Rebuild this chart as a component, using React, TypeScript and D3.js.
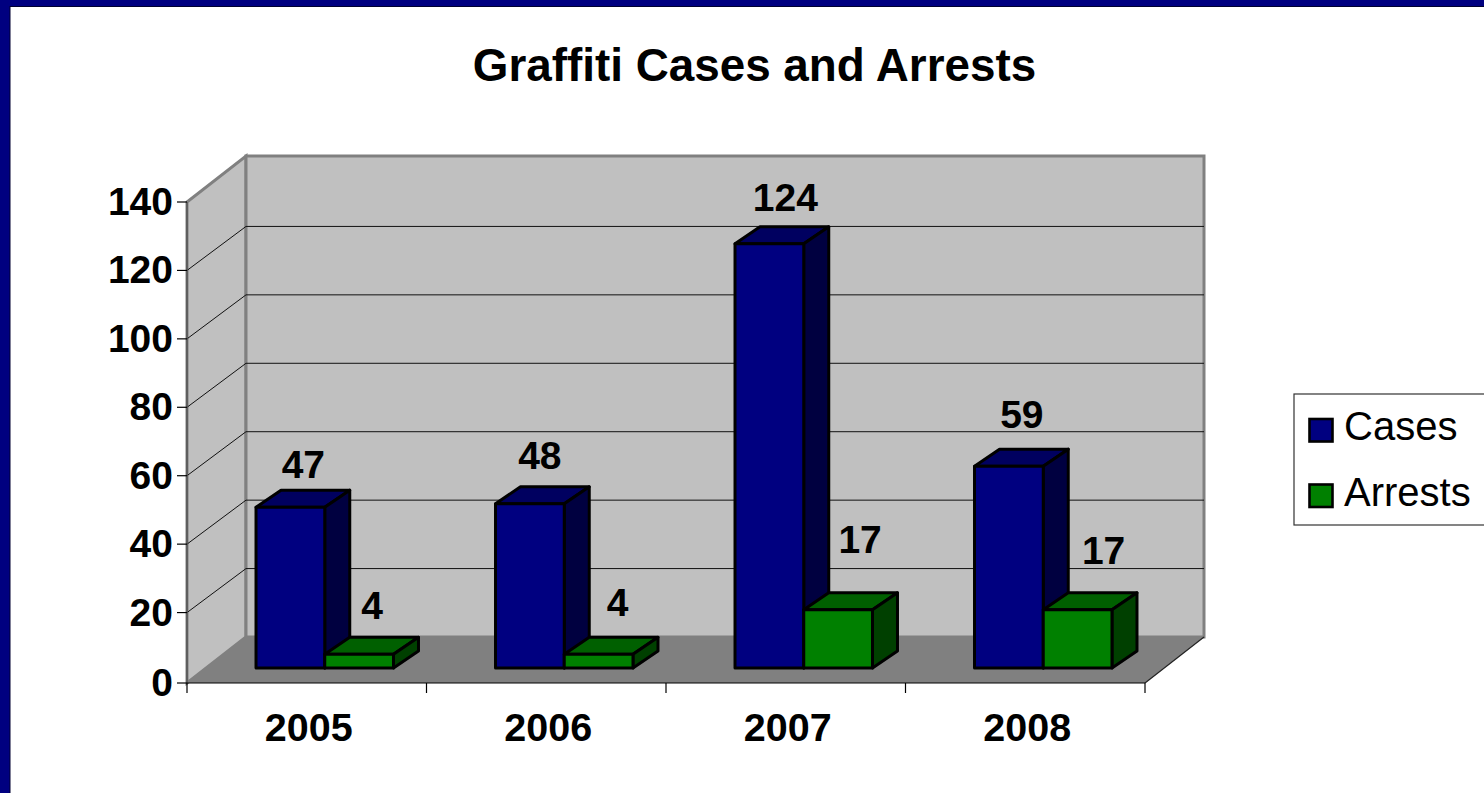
import { useEffect, useRef } from 'react';
import * as d3 from 'd3';

const years = ['2005', '2006', '2007', '2008'];
const cases = [47, 48, 124, 59];
const arrests = [4, 4, 17, 17];
const yTicks = [0, 20, 40, 60, 80, 100, 120, 140];
const seriesNames = ['Cases', 'Arrests'];

// pixel nudges for the data labels, relative to the default spot above each bar
const caseLabelShift: [number, number][] = [[-2, 5], [-5, -1], [1, 1], [-2, -4]];
const arrestLabelShift: [number, number][] = [[-2, -1], [4, -4], [7, -23], [11, -12]];

const WIDTH = 1484;
const HEIGHT = 793;
const FONT = '"Liberation Sans", Arial, sans-serif';

// fake 3d: the back wall sits this far from the front plane
const DEPTH_X = 59;
const DEPTH_Y = -46;
const GRID_DEPTH_Y = -44;
// bars stand part of the way into the floor
const BAR_X = 18;
const BAR_Y = -13;
const BAR_DEPTH_X = 25;
const BAR_DEPTH_Y = -17;

const PALETTE = {
  cases: { front: '#000080', top: '#000060', side: '#000040' },
  arrests: { front: '#008000', top: '#006000', side: '#004000' },
};

function poly(points: [number, number][]): string {
  return (d3.line()(points) ?? '') + 'Z';
}

function drawChart(svgEl: SVGSVGElement) {
  const svg = d3.select(svgEl);
  svg.selectAll('*').remove();

  const x0 = 187;
  const x1 = 1145;
  const yBase = 683;
  const yTop = 202;

  const y = d3.scaleLinear().domain([0, 140]).range([681, yTop]);
  const x = d3.scaleBand<string>().domain(years).range([x0, x1]).paddingInner(0.426).paddingOuter(0.213);
  const step = x.step();
  const barW = x.bandwidth() / 2;

  // slide frame
  svg.append('rect').attr('width', WIDTH).attr('height', HEIGHT).attr('fill', '#000080');
  svg.append('rect').attr('x', 10).attr('y', 6.5).attr('width', WIDTH).attr('height', HEIGHT).attr('fill', '#fff').attr('stroke', '#000030').attr('stroke-width', 1);

  svg
    .append('text')
    .attr('x', 754.5)
    .attr('y', 81)
    .attr('text-anchor', 'middle')
    .attr('font-size', 45.8)
    .attr('font-weight', 'bold')
    .text('Graffiti Cases and Arrests');

  const walls = svg.append('g');
  // side wall
  walls
    .append('path')
    .attr('d', poly([[x0, yBase], [x0 + DEPTH_X, yBase + DEPTH_Y], [x0 + DEPTH_X, yTop + DEPTH_Y], [x0, yTop]]))
    .attr('fill', '#c0c0c0')
    .attr('stroke', '#808080')
    .attr('stroke-width', 3);
  // back wall
  walls
    .append('rect')
    .attr('x', x0 + DEPTH_X)
    .attr('y', yTop + DEPTH_Y)
    .attr('width', x1 - x0)
    .attr('height', yBase - yTop)
    .attr('fill', '#c0c0c0')
    .attr('stroke', '#808080')
    .attr('stroke-width', 3);
  // floor
  walls
    .append('path')
    .attr('d', poly([[x0, yBase], [x0 + DEPTH_X, yBase + DEPTH_Y], [x1 + DEPTH_X, yBase + DEPTH_Y], [x1, yBase]]))
    .attr('fill', '#808080');

  // gridlines run along both walls
  yTicks
    .filter((t) => t > 0 && t < 140)
    .forEach((t) => {
      walls
        .append('path')
        .attr('d', d3.line()([[x0, y(t)], [x0 + DEPTH_X, y(t) + GRID_DEPTH_Y], [x1 + DEPTH_X, y(t) + GRID_DEPTH_Y]]))
        .attr('fill', 'none')
        .attr('stroke', '#111')
        .attr('stroke-width', 1);
    });

  // axes
  const axes = svg.append('g').attr('stroke', '#000').attr('stroke-width', 1.2);
  axes.append('line').attr('x1', x0).attr('x2', x0).attr('y1', yTop).attr('y2', yBase).attr('stroke', '#555').attr('stroke-width', 1.5);
  axes.append('line').attr('x1', x0).attr('x2', x1).attr('y1', yBase).attr('y2', yBase);
  axes
    .append('line')
    .attr('x1', x1)
    .attr('y1', yBase)
    .attr('x2', x1 + DEPTH_X)
    .attr('y2', yBase + DEPTH_Y)
    .attr('stroke', '#222');
  yTicks.forEach((t) => {
    const ty = t === 0 ? yBase : y(t);
    axes.append('line').attr('x1', x0 - 10).attr('x2', x0).attr('y1', ty).attr('y2', ty);
    svg
      .append('text')
      .attr('x', x0 - 14)
      .attr('y', ty + 13)
      .attr('text-anchor', 'end')
      .attr('font-size', 39)
      .attr('font-weight', 'bold')
      .text(t);
  });
  d3.range(years.length + 1).forEach((i) => {
    const tx = x0 + step * i;
    axes.append('line').attr('x1', tx).attr('x2', tx).attr('y1', yBase).attr('y2', yBase + 10);
  });
  years.forEach((yr) => {
    svg
      .append('text')
      .attr('x', (x(yr) ?? 0) + x.bandwidth() / 2 + 2)
      .attr('y', 741)
      .attr('text-anchor', 'middle')
      .attr('font-size', 39.5)
      .attr('font-weight', 'bold')
      .text(yr);
  });

  const drawBox = (left: number, value: number, colors: typeof PALETTE.cases, g: d3.Selection<SVGGElement, unknown, null, undefined>) => {
    const right = left + barW;
    const bottom = y(0) + BAR_Y;
    const top = y(value) + BAR_Y;
    const face = (pts: [number, number][], fill: string) =>
      g
        .append('path')
        .attr('d', poly(pts))
        .attr('fill', fill)
        .attr('stroke', '#000')
        .attr('stroke-width', 3)
        .attr('stroke-linejoin', 'round');
    face([[left, top], [left + BAR_DEPTH_X, top + BAR_DEPTH_Y], [right + BAR_DEPTH_X, top + BAR_DEPTH_Y], [right, top]], colors.top);
    face([[right, top], [right + BAR_DEPTH_X, top + BAR_DEPTH_Y], [right + BAR_DEPTH_X, bottom + BAR_DEPTH_Y], [right, bottom]], colors.side);
    face([[left, top], [right, top], [right, bottom], [left, bottom]], colors.front);
  };

  const bars = svg.append('g');
  years.forEach((yr, i) => {
    const left = (x(yr) ?? 0) + BAR_X;
    drawBox(left, cases[i], PALETTE.cases, bars);
    drawBox(left + barW, arrests[i], PALETTE.arrests, bars);
  });

  const labels = svg.append('g').attr('font-size', 39).attr('font-weight', 'bold').attr('text-anchor', 'middle');
  years.forEach((yr, i) => {
    const left = (x(yr) ?? 0) + BAR_X;
    labels
      .append('text')
      .attr('x', left + barW / 2 + 15 + caseLabelShift[i][0])
      .attr('y', y(cases[i]) + BAR_Y - 34 + caseLabelShift[i][1])
      .text(cases[i]);
    labels
      .append('text')
      .attr('x', left + barW * 1.5 + 15 + arrestLabelShift[i][0])
      .attr('y', y(arrests[i]) + BAR_Y - 34 + arrestLabelShift[i][1])
      .text(arrests[i]);
  });

  // legend
  const legend = svg.append('g').attr('transform', 'translate(1294,394)');
  legend.append('rect').attr('width', 192).attr('height', 131).attr('fill', '#fff').attr('stroke', '#333').attr('stroke-width', 1.2);
  seriesNames.forEach((name, i) => {
    const row = legend.append('g').attr('transform', `translate(0,${i * 65.5})`);
    row
      .append('rect')
      .attr('x', 15.5)
      .attr('y', 25)
      .attr('width', 23)
      .attr('height', 22.5)
      .attr('fill', i === 0 ? PALETTE.cases.front : PALETTE.arrests.front)
      .attr('stroke', '#000')
      .attr('stroke-width', 2.6);
    row.append('text').attr('x', 50).attr('y', 46).attr('font-size', 40).text(name);
  });
}

export default function App() {
  const svgRef = useRef<SVGSVGElement>(null);

  useEffect(() => {
    if (svgRef.current) drawChart(svgRef.current);
  }, []);

  return (
    <svg
      ref={svgRef}
      width={WIDTH}
      height={HEIGHT}
      style={{ display: 'block', position: 'absolute', left: 0, top: 0, fontFamily: FONT }}
    />
  );
}
